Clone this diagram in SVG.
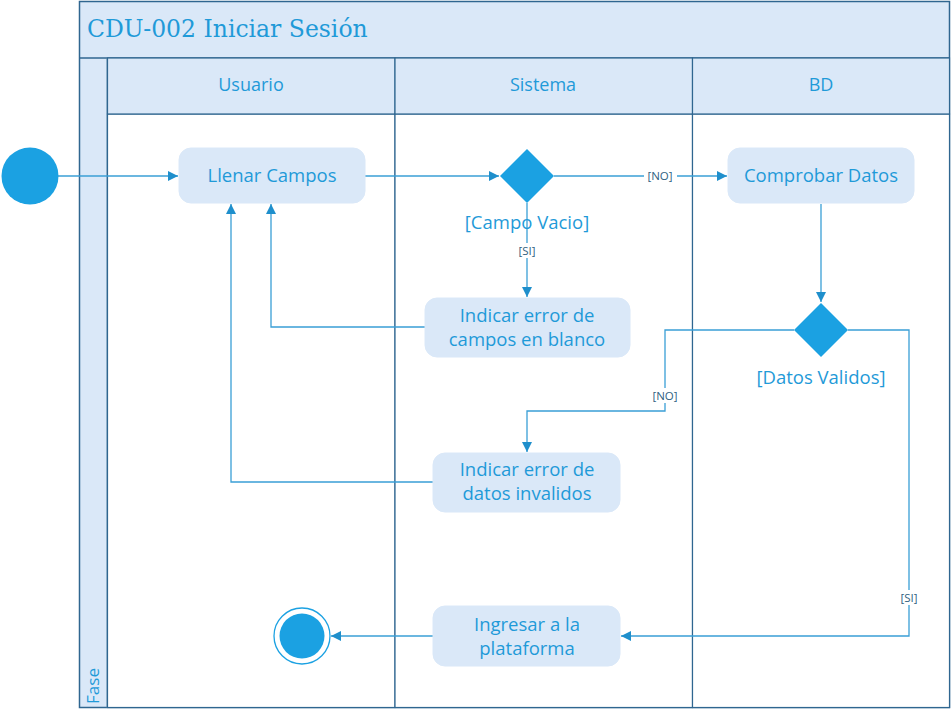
<svg xmlns="http://www.w3.org/2000/svg" width="952" height="716" viewBox="0 0 952 716">
<style>
.frame{fill:#dae8f8;stroke:#2f6690;stroke-width:1.5}
.lane{fill:#ffffff;stroke:#2f6690;stroke-width:1.2}
.hdr{fill:#dae8f8;stroke:#2f6690;stroke-width:1.2}
.act{fill:#dae8f8;stroke:#dae8f8;stroke-width:1}
.t{font-family:"Open Sans","Noto Sans",sans-serif;fill:#1f9ad8;text-anchor:middle}
.big{font-size:18.5px}
.lh{font-size:18px}
.title{font-family:"DejaVu Serif","Liberation Serif",serif;font-size:23.5px;fill:#1f9ad8}
.edge{fill:none;stroke:#3a9fd6;stroke-width:1.3}
.lbl{font-family:"Open Sans","Noto Sans",sans-serif;font-size:11.5px;fill:#2f5f7f;text-anchor:middle}
.dec{fill:#1ba1e2}
</style>
<defs>
<marker id="ah" viewBox="0 0 10 10" refX="10" refY="5" markerWidth="10" markerHeight="10" markerUnits="userSpaceOnUse" orient="auto">
<path d="M0,0 L10,5 L0,10 z" fill="#1f8fcc"/>
</marker>
</defs>
<g id="pool">
<rect class="frame" x="79.5" y="1.5" width="870" height="706"/>
<line x1="79.5" y1="58" x2="949.5" y2="58" stroke="#2f6690" stroke-width="1.5"/>
<text class="title" x="87" y="37">CDU-002 Iniciar Sesión</text>
<line x1="107.5" y1="58" x2="107.5" y2="707.5" stroke="#5a87a8" stroke-width="2"/>
<text class="t" font-size="17" transform="translate(99,686) rotate(-90)" text-anchor="middle">Fase</text>
</g>
<g id="lane-usuario">
<rect class="lane" x="107.5" y="114" width="287.5" height="593.5"/>
<rect class="hdr" x="107.5" y="58" width="287.5" height="56"/>
<text class="t lh" x="251" y="91">Usuario</text>
</g>
<g id="lane-sistema">
<rect class="lane" x="395" y="114" width="297.5" height="593.5"/>
<rect class="hdr" x="395" y="58" width="297.5" height="56"/>
<text class="t lh" x="543" y="91">Sistema</text>
</g>
<g id="lane-bd">
<rect class="lane" x="692.5" y="114" width="257" height="593.5"/>
<rect class="hdr" x="692.5" y="58" width="257" height="56"/>
<text class="t lh" x="821" y="91">BD</text>
</g>
<g id="connectors">
<line class="edge" x1="58" y1="176" x2="178" y2="176" marker-end="url(#ah)"/>
<line class="edge" x1="365" y1="176" x2="499" y2="176" marker-end="url(#ah)"/>
<line class="edge" x1="554" y1="176" x2="727" y2="176" marker-end="url(#ah)"/>
<rect x="644" y="168" width="33" height="15" fill="#fff"/>
<text class="lbl" x="660" y="180">[NO]</text>
<polyline class="edge" points="527,203 527,297" marker-end="url(#ah)"/>
<rect x="515" y="243" width="24" height="15" fill="#fff"/>
<text class="lbl" x="527" y="255">[SI]</text>
<polyline class="edge" points="425,327 271,327 271,204" marker-end="url(#ah)"/>
<polyline class="edge" points="433,482 231,482 231,204" marker-end="url(#ah)"/>
<line class="edge" x1="821" y1="204" x2="821" y2="302" marker-end="url(#ah)"/>
<polyline class="edge" points="794,330 665,330 665,411 527,411 527,452" marker-end="url(#ah)"/>
<rect x="649" y="388" width="33" height="15" fill="#fff"/>
<text class="lbl" x="665" y="400">[NO]</text>
<polyline class="edge" points="848,330 909,330 909,636 621,636" marker-end="url(#ah)"/>
<rect x="897" y="590" width="24" height="15" fill="#fff"/>
<text class="lbl" x="909" y="602">[SI]</text>
<line class="edge" x1="433" y1="636" x2="331" y2="636" marker-end="url(#ah)"/>
</g>
<g id="start">
<circle cx="30" cy="176" r="28.5" fill="#1ba1e2"/>
</g>
<g id="llenar-campos">
<rect class="act" x="179" y="148" width="186" height="55" rx="12"/>
<text class="t big" x="272" y="182">Llenar Campos</text>
</g>
<g id="campo-vacio">
<polygon class="dec" points="527,149 554,176 527,203 500,176"/>
<text class="t big" x="527" y="229">[Campo Vacio]</text>
</g>
<g id="comprobar-datos">
<rect class="act" x="728" y="148" width="186" height="55" rx="12"/>
<text class="t big" x="821" y="182">Comprobar Datos</text>
</g>
<g id="error-blanco">
<rect class="act" x="425" y="298" width="205" height="59" rx="12"/>
<text class="t big" x="527" y="322">Indicar error de</text>
<text class="t big" x="527" y="346">campos en blanco</text>
</g>
<g id="datos-validos">
<polygon class="dec" points="821,303 848,330 821,357 794,330"/>
<text class="t big" x="821" y="384">[Datos Validos]</text>
</g>
<g id="error-invalidos">
<rect class="act" x="433" y="453" width="187" height="59" rx="12"/>
<text class="t big" x="527" y="476">Indicar error de</text>
<text class="t big" x="527" y="500">datos invalidos</text>
</g>
<g id="ingresar">
<rect class="act" x="433" y="606" width="187" height="60" rx="12"/>
<text class="t big" x="527" y="631">Ingresar a la</text>
<text class="t big" x="527" y="655">plataforma</text>
</g>
<g id="end">
<circle cx="302" cy="636" r="28" fill="#fff" stroke="#1ba1e2" stroke-width="1.3"/>
<circle cx="302" cy="636" r="22.5" fill="#1ba1e2"/>
</g>
</svg>
